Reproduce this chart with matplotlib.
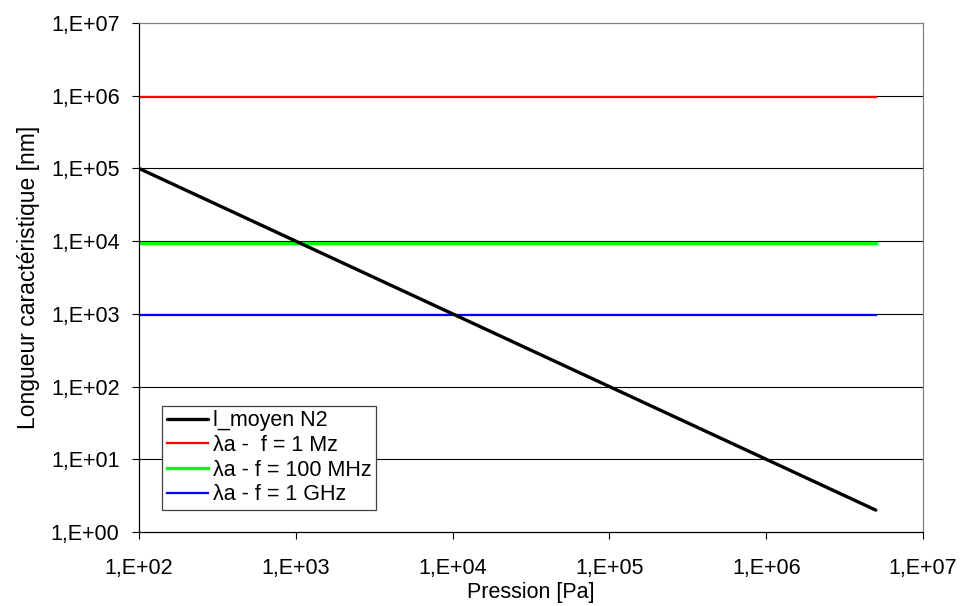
import matplotlib
matplotlib.use("Agg")
import matplotlib.pyplot as plt
from matplotlib.ticker import FixedLocator, NullLocator

plt.rcParams['font.family'] = ['Liberation Sans', 'DejaVu Sans']

# Data
pression = [1e2, 1e3, 1e4, 1e5, 1e6, 5e6]
l_moyen = [1e5, 1e4, 1e3, 1e2, 1e1, 2]
p_range = [1e2, 5e6]
lambda_1MHz = [9.7e5, 9.7e5]
lambda_100MHz = [9.5e3, 9.5e3]
lambda_1GHz = [9.5e2, 9.5e2]

x_ticks = [1e2, 1e3, 1e4, 1e5, 1e6, 1e7]
x_labels = ["1,E+02", "1,E+03", "1,E+04", "1,E+05", "1,E+06", "1,E+07"]
y_ticks = [1e0, 1e1, 1e2, 1e3, 1e4, 1e5, 1e6, 1e7]
y_labels = ["1,E+00", "1,E+01", "1,E+02", "1,E+03", "1,E+04", "1,E+05", "1,E+06", "1,E+07"]

FS = 15.5

fig = plt.figure(figsize=(9.61, 6.06), dpi=100)
ax = fig.add_axes([139/961, 74/606, 784/961, 509/606])

ax.set_xscale('log')
ax.set_yscale('log')
ax.set_xlim(1e2, 1e7)
ax.set_ylim(1e0, 1e7)

for y in y_ticks[1:-1]:
    ax.axhline(y, color='black', lw=0.8, zorder=1)

ax.plot(pression, l_moyen, color='black', lw=2.4, label='l_moyen N2', zorder=3,
        solid_capstyle='round')
ax.plot(p_range, lambda_1MHz, color='#ff0000', lw=1.6, label='λa -  f = 1 Mz', zorder=2)
ax.plot(p_range, lambda_100MHz, color='#00ff00', lw=2.4, label='λa - f = 100 MHz', zorder=2)
ax.plot(p_range, lambda_1GHz, color='#0000ff', lw=1.6, label='λa - f = 1 GHz', zorder=2)

ax.xaxis.set_major_locator(FixedLocator(x_ticks))
ax.yaxis.set_major_locator(FixedLocator(y_ticks))
ax.xaxis.set_minor_locator(NullLocator())
ax.yaxis.set_minor_locator(NullLocator())
ax.set_xticklabels(x_labels)
ax.set_yticklabels(y_labels)
ax.tick_params(axis='both', direction='out', length=5, width=0.8, labelsize=FS, colors='black')
ax.tick_params(axis='x', pad=14)
ax.tick_params(axis='y', pad=9)

ax.spines['left'].set_color('black')
ax.spines['bottom'].set_color('black')
ax.spines['top'].set_color('#808080')
ax.spines['right'].set_color('#808080')
for s in ax.spines.values():
    s.set_linewidth(0.9)

ax.set_xlabel('Pression [Pa]', fontsize=FS, labelpad=2)
ax.set_ylabel('Longueur caractéristique [nm]', fontsize=16.5, labelpad=8)

leg = ax.legend(loc='lower left', bbox_to_anchor=(23/784, 22/509), fontsize=FS,
                frameon=True, fancybox=False, framealpha=1, edgecolor='#404040',
                handlelength=1.9, handletextpad=0.25, labelspacing=0.17,
                borderpad=0.22, borderaxespad=0)
leg.get_frame().set_linewidth(0.9)

fig.savefig('out.png', dpi=100)
